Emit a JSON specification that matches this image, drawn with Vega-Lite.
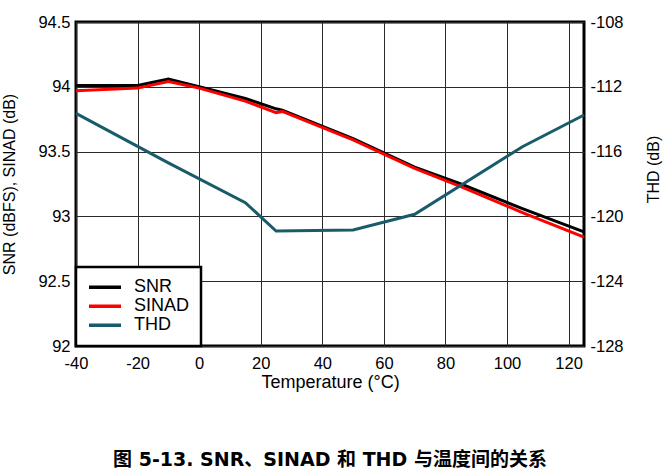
{
  "$schema": "https://vega.github.io/schema/vega-lite/v6.json",
  "width": 508,
  "height": 324,
  "autosize": "none",
  "padding": {"left": 76, "top": 22, "right": 79, "bottom": 129},
  "background": "white",
  "config": {
    "font": "Liberation Sans",
    "view": {"stroke": "black", "strokeWidth": 3},
    "legend": {"strokeWidth": 2.5},
    "axis": {
      "labelFont": "Liberation Sans",
      "labelFontSize": 16.5,
      "labelColor": "black",
      "titleFont": "Liberation Sans",
      "titleFontSize": 16,
      "titleFontWeight": "normal",
      "titleColor": "black",
      "ticks": false,
      "domain": false,
      "gridColor": "#2a2a2a",
      "gridWidth": 1,
      "gridOpacity": 1
    }
  },
  "title": {
    "text": "图 5-13. SNR、SINAD 和 THD 与温度间的关系",
    "orient": "bottom",
    "anchor": "middle",
    "font": "DejaVu Sans, Noto Sans CJK SC",
    "fontWeight": "bold",
    "fontSize": 19,
    "color": "black",
    "offset": 59
  },
  "data": {
    "values": [
      {"temp": -40, "series": "SNR", "value": 94.01},
      {"temp": -20, "series": "SNR", "value": 94.01},
      {"temp": -10, "series": "SNR", "value": 94.06},
      {"temp": 0, "series": "SNR", "value": 94.0},
      {"temp": 15, "series": "SNR", "value": 93.91},
      {"temp": 25, "series": "SNR", "value": 93.83},
      {"temp": 27, "series": "SNR", "value": 93.82},
      {"temp": 50, "series": "SNR", "value": 93.6},
      {"temp": 70, "series": "SNR", "value": 93.38},
      {"temp": 85, "series": "SNR", "value": 93.25},
      {"temp": 105, "series": "SNR", "value": 93.06},
      {"temp": 125, "series": "SNR", "value": 92.88},
      {"temp": -40, "series": "SINAD", "value": 93.97},
      {"temp": -20, "series": "SINAD", "value": 93.99},
      {"temp": -10, "series": "SINAD", "value": 94.04},
      {"temp": 0, "series": "SINAD", "value": 93.99},
      {"temp": 15, "series": "SINAD", "value": 93.89},
      {"temp": 25, "series": "SINAD", "value": 93.8},
      {"temp": 27, "series": "SINAD", "value": 93.81},
      {"temp": 50, "series": "SINAD", "value": 93.59},
      {"temp": 70, "series": "SINAD", "value": 93.37},
      {"temp": 85, "series": "SINAD", "value": 93.23},
      {"temp": 105, "series": "SINAD", "value": 93.03},
      {"temp": 125, "series": "SINAD", "value": 92.84},
      {"temp": -40, "series": "THD", "value": -113.64},
      {"temp": -10, "series": "THD", "value": -116.7},
      {"temp": 15, "series": "THD", "value": -119.15},
      {"temp": 25, "series": "THD", "value": -120.9},
      {"temp": 50, "series": "THD", "value": -120.84},
      {"temp": 70, "series": "THD", "value": -119.87},
      {"temp": 105, "series": "THD", "value": -115.7},
      {"temp": 125, "series": "THD", "value": -113.74}
    ]
  },
  "encoding": {
    "x": {
      "field": "temp",
      "type": "quantitative",
      "scale": {"domain": [-40, 125], "nice": false, "zero": false},
      "axis": {
        "title": "Temperature (°C)",
        "titleFontSize": 18,
        "values": [-40, -20, 0, 20, 40, 60, 80, 100, 120],
        "labelExpr": "replace(datum.label, '−', '-')",
        "labelPadding": 9,
        "titlePadding": 2,
        "labelFlush": false
      }
    },
    "color": {
      "field": "series",
      "type": "nominal",
      "scale": {"domain": ["SNR", "SINAD", "THD"], "range": ["#000000", "#ff0000", "#1a5b6a"]},
      "legend": {
        "title": null,
        "orient": "bottom-left",
        "offset": 0,
        "fillColor": "white",
        "strokeColor": "black",
        "padding": 11,
        "symbolType": "stroke",
        "symbolSize": 1024,
        "symbolStrokeWidth": 3.5,
        "labelFontSize": 18,
        "labelFont": "Liberation Sans",
        "labelColor": "black",
        "labelOffset": 11,
        "rowPadding": 0,
        "clipHeight": 18.5,
        "labelLimit": 200
      }
    }
  },
  "layer": [
    {
      "transform": [{"filter": "datum.series !== 'THD'"}],
      "mark": {"type": "line", "strokeWidth": 3},
      "encoding": {
        "y": {
          "field": "value",
          "type": "quantitative",
          "scale": {"domain": [92, 94.5], "nice": false, "zero": false},
          "axis": {
            "title": "SNR (dBFS), SINAD (dB)",
            "values": [92, 92.5, 93, 93.5, 94, 94.5],
            "format": ".1~f",
            "labelPadding": 6,
            "titlePadding": 20
          }
        }
      }
    },
    {
      "transform": [{"filter": "datum.series === 'THD'"}],
      "mark": {"type": "line", "strokeWidth": 3},
      "encoding": {
        "y": {
          "field": "value",
          "type": "quantitative",
          "scale": {"domain": [-128, -108], "nice": false, "zero": false},
          "axis": {
            "orient": "right",
            "title": "THD (dB)",
            "titleAngle": 270,
            "titleY": 147,
            "values": [-128, -124, -120, -116, -112, -108],
            "labelExpr": "replace(datum.label, '−', '-')",
            "grid": false,
            "labelPadding": 6,
            "titlePadding": 38
          }
        }
      }
    }
  ],
  "resolve": {"scale": {"y": "independent"}}
}
